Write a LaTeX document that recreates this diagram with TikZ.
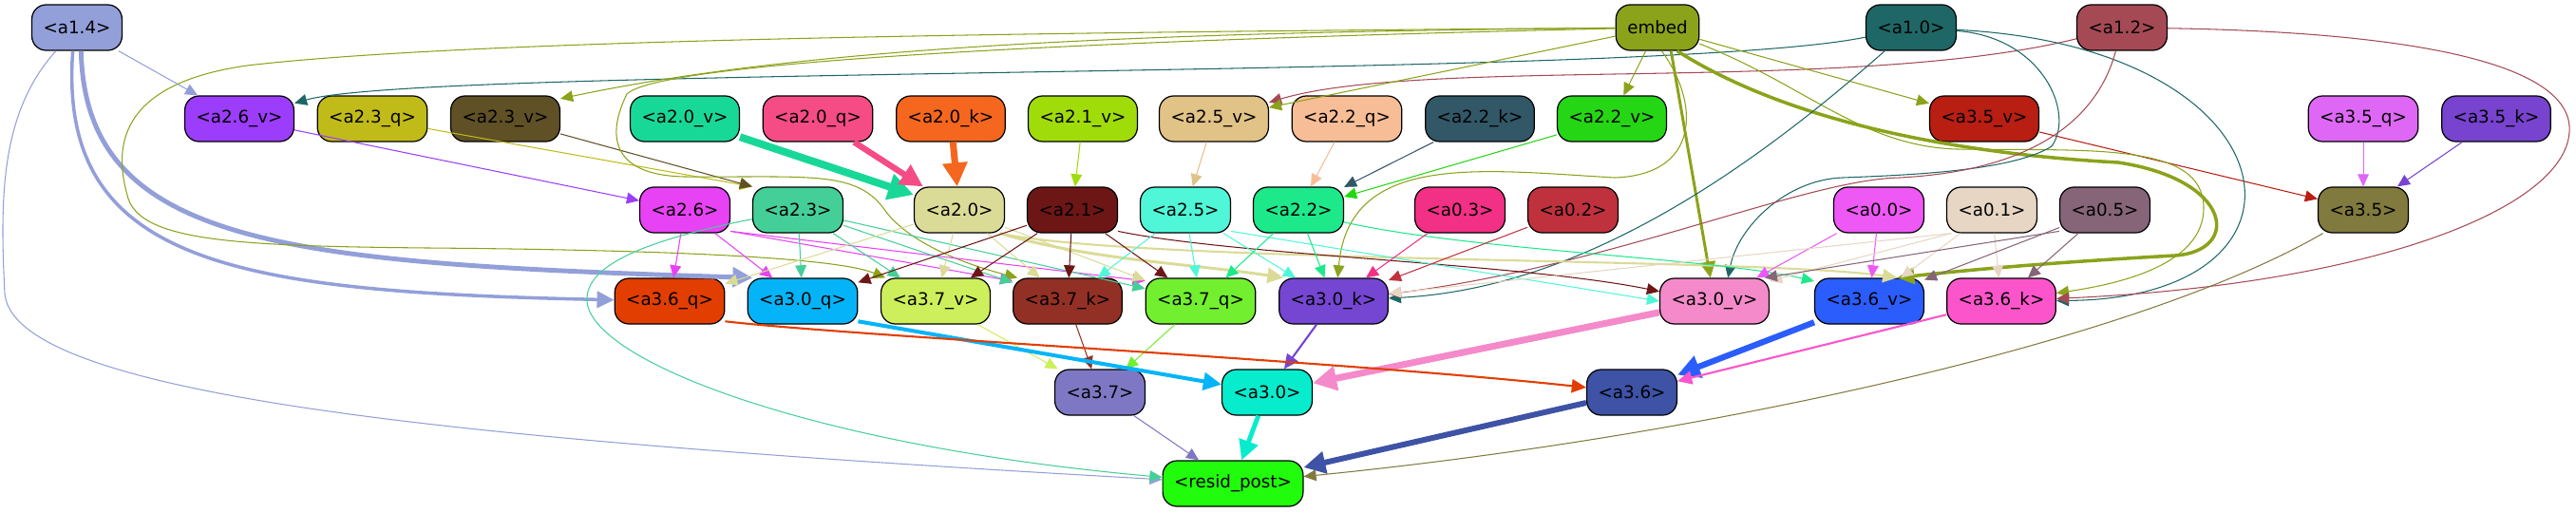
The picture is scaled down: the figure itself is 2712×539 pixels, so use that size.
\documentclass[tikz,border=0pt]{standalone}
\usepackage{fontspec}
\setmainfont{DejaVu Sans}
\usetikzlibrary{arrows.meta}

\definecolor{c14}{HTML}{939FD9}
\definecolor{cemb}{HTML}{8AA31A}
\definecolor{c10}{HTML}{1E6766}
\definecolor{c12}{HTML}{A54A55}
\definecolor{c26v}{HTML}{9B3DFA}
\definecolor{c23q}{HTML}{C0BB18}
\definecolor{c23v}{HTML}{5F5026}
\definecolor{c20v}{HTML}{18D898}
\definecolor{c20q}{HTML}{F54C85}
\definecolor{c20k}{HTML}{F5661E}
\definecolor{c21v}{HTML}{A0DC0A}
\definecolor{c25v}{HTML}{E1C287}
\definecolor{c22q}{HTML}{F7BD96}
\definecolor{c22k}{HTML}{325767}
\definecolor{c22v}{HTML}{25D614}
\definecolor{c35v}{HTML}{B81E12}
\definecolor{c35q}{HTML}{DE68F5}
\definecolor{c35k}{HTML}{7743CF}
\definecolor{c26}{HTML}{E842F5}
\definecolor{c23}{HTML}{45CF98}
\definecolor{c20}{HTML}{DBDB98}
\definecolor{c21}{HTML}{6D1616}
\definecolor{c25}{HTML}{4FF7D8}
\definecolor{c22}{HTML}{1DE98B}
\definecolor{c03}{HTML}{F23085}
\definecolor{c02}{HTML}{C0313E}
\definecolor{c00}{HTML}{EE58F5}
\definecolor{c01}{HTML}{E6D6C3}
\definecolor{c05}{HTML}{866579}
\definecolor{c35}{HTML}{817A3E}
\definecolor{c36q}{HTML}{E23E02}
\definecolor{c30q}{HTML}{05B4F8}
\definecolor{c37v}{HTML}{CDEF5B}
\definecolor{c37k}{HTML}{933025}
\definecolor{c37q}{HTML}{72EF2F}
\definecolor{c30k}{HTML}{7446D2}
\definecolor{c30v}{HTML}{F48ACA}
\definecolor{c36v}{HTML}{2B5DFC}
\definecolor{c36k}{HTML}{FC55CB}
\definecolor{c37}{HTML}{7E78C4}
\definecolor{c30}{HTML}{07ECCD}
\definecolor{c36}{HTML}{3E52A6}
\definecolor{cres}{HTML}{21FC0C}

\tikzset{
  box/.style={draw=black, line width=0.7pt, rounded corners=0.3cm,
    minimum height=0.96cm, inner xsep=0.24cm, inner ysep=0pt, text=black,
    font=\fontsize{10.4pt}{12pt}\selectfont},
  conn/.style={->, line width=0.6pt},
}

\begin{document}
\begin{tikzpicture}[x=0.02cm, y=0.02cm, >={Triangle[length=0.22cm 2, width=0.19cm 2.2]}]
          \useasboundingbox (0,0) rectangle (2712,539);

          % Sources
          \node[box, fill=c14] (a14) at (81,510) {<a1.4>};
          \node[box, fill=cemb] (emb) at (1745,510) {embed};
          \node[box, fill=c10] (a10) at (2012,510) {<a1.0>};
          \node[box, fill=c12] (a12) at (2234,510) {<a1.2>};

          % Inputs of the layer 2 heads
          \node[box, fill=c26v] (a26v) at (252,414) {<a2.6\_v>};
          \node[box, fill=c23q] (a23q) at (392,414) {<a2.3\_q>};
          \node[box, fill=c23v] (a23v) at (532,414) {<a2.3\_v>};
          \node[box, fill=c20v] (a20v) at (721,414) {<a2.0\_v>};
          \node[box, fill=c20q] (a20q) at (861,414) {<a2.0\_q>};
          \node[box, fill=c20k] (a20k) at (1001,414) {<a2.0\_k>};
          \node[box, fill=c21v] (a21v) at (1140,414) {<a2.1\_v>};
          \node[box, fill=c25v] (a25v) at (1278,414) {<a2.5\_v>};
          \node[box, fill=c22q] (a22q) at (1418,414) {<a2.2\_q>};
          \node[box, fill=c22k] (a22k) at (1558,414) {<a2.2\_k>};
          \node[box, fill=c22v] (a22v) at (1697,414) {<a2.2\_v>};
          \node[box, fill=c35v] (a35v) at (2089,414) {<a3.5\_v>};
          \node[box, fill=c35q] (a35q) at (2488,414) {<a3.5\_q>};
          \node[box, fill=c35k] (a35k) at (2628,414) {<a3.5\_k>};

          % Heads
          \node[box, fill=c26] (a26) at (721,318) {<a2.6>};
          \node[box, fill=c23] (a23) at (840,318) {<a2.3>};
          \node[box, fill=c20] (a20) at (1010,318) {<a2.0>};
          \node[box, fill=c21] (a21) at (1129,318) {<a2.1>};
          \node[box, fill=c25] (a25) at (1248,318) {<a2.5>};
          \node[box, fill=c22] (a22) at (1367,318) {<a2.2>};
          \node[box, fill=c03] (a03) at (1537,318) {<a0.3>};
          \node[box, fill=c02] (a02) at (1656,318) {<a0.2>};
          \node[box, fill=c00] (a00) at (1978,318) {<a0.0>};
          \node[box, fill=c01] (a01) at (2097,318) {<a0.1>};
          \node[box, fill=c05] (a05) at (2216,318) {<a0.5>};
          \node[box, fill=c35] (a35) at (2488,318) {<a3.5>};

          % Inputs of the layer 3 heads
          \node[box, fill=c36q] (a36q) at (705,222) {<a3.6\_q>};
          \node[box, fill=c30q] (a30q) at (845,222) {<a3.0\_q>};
          \node[box, fill=c37v] (a37v) at (985,222) {<a3.7\_v>};
          \node[box, fill=c37k] (a37k) at (1124,222) {<a3.7\_k>};
          \node[box, fill=c37q] (a37q) at (1264,222) {<a3.7\_q>};
          \node[box, fill=c30k] (a30k) at (1404,222) {<a3.0\_k>};
          \node[box, fill=c30v] (a30v) at (1805,222) {<a3.0\_v>};
          \node[box, fill=c36v] (a36v) at (1968,222) {<a3.6\_v>};
          \node[box, fill=c36k] (a36k) at (2107,222) {<a3.6\_k>};

          % Layer 3 heads and output
          \node[box, fill=c37] (a37) at (1158,126) {<a3.7>};
          \node[box, fill=c30] (a30) at (1334,126) {<a3.0>};
          \node[box, fill=c36] (a36) at (1718,126) {<a3.6>};
          \node[box, fill=cres] (resid) at (1298,30) {<resid\_post>};

          % Sources into the layer 2 inputs
          \draw[conn, c14] (a14) -- (a26v);
          \draw[conn, c10] (a10) .. controls (1750,455) and (450,470) .. (a26v);
          \draw[conn, c12] (a12) .. controls (1950,440) and (1500,480) .. (a25v);
          \draw[conn, cemb] (emb) .. controls (1200,505) and (850,490) .. (a23v.20);
          \draw[conn, cemb] (emb) -- (a25v);
          \draw[conn, cemb] (emb) -- (a22v);
          \draw[conn, cemb] (emb) -- (a35v);

          % Inputs into the heads
          \draw[conn, c26v] (a26v) -- (a26);
          \draw[conn, c23q] (a23q) -- (a23.north west);
          \draw[conn, c23v] (a23v) -- (a23.north west);
          \draw[conn, c20v, line width=4.5pt] (a20v) -- (a20);
          \draw[conn, c20q, line width=3.6pt] (a20q) -- (a20);
          \draw[conn, c20k, line width=4pt] (a20k) -- (a20);
          \draw[conn, c21v] (a21v) -- (a21);
          \draw[conn, c25v] (a25v) -- (a25);
          \draw[conn, c22q] (a22q) -- (a22);
          \draw[conn, c22k] (a22k) -- (a22);
          \draw[conn, c22v] (a22v) -- (a22);
          \draw[conn, c35v] (a35v) -- (a35);
          \draw[conn, c35q] (a35q) -- (a35);
          \draw[conn, c35k] (a35k) -- (a35);

          % a1.4 into layer 3 and the output
          \draw[conn, c14, line width=2pt] (a14.-100) .. controls (60,260) and (250,232) .. (a36q);
          \draw[conn, c14, line width=2.8pt] (a14.-80) .. controls (90,280) and (300,262) .. (a30q.155);
          \draw[conn, c14] (a14) .. controls (0,420) and (0,330) .. (5,230) .. controls (15,120) and (500,75) .. (resid);

          % embed into layer 3
          \draw[conn, cemb] (emb) .. controls (1100,505) and (500,498) .. (260,470) .. controls (120,450) and (120,380) .. (135,330)
            .. controls (150,285) and (250,280) .. (450,278) .. controls (700,276) and (880,268) .. (a37v.155);
          \draw[conn, cemb] (emb) .. controls (1300,500) and (700,480) .. (660,440) .. controls (640,400) and (640,355) .. (720,353)
            .. controls (850,352) and (900,360) .. (930,320) .. controls (950,290) and (1000,265) .. (a37k.155);
          \draw[conn, cemb] (emb.-80) .. controls (1790,430) and (1790,355) .. (1700,352) .. controls (1560,360) and (1420,380) .. (a30k.80);
          \draw[conn, cemb, line width=1.7pt] (emb.-60) -- (a30v);
          \draw[conn, cemb, line width=2pt] (emb.-50) .. controls (1900,400) and (2100,375) .. (2230,368)
            .. controls (2350,350) and (2360,275) .. (2290,270) .. controls (2200,265) and (2100,258) .. (a36v.40);
          \draw[conn, cemb] (emb) .. controls (1900,450) and (1960,385) .. (2060,382) .. controls (2200,380) and (2320,390) .. (2320,320)
            .. controls (2320,260) and (2230,240) .. (a36k);

          % a1.0 and a1.2 into layer 3
          \draw[conn, c10] (a10) .. controls (1820,340) and (1650,235) .. (a30k);
          \draw[conn, c10] (a10) .. controls (2150,500) and (2185,420) .. (2160,385) .. controls (2120,360) and (2020,355) .. (1940,352)
            .. controls (1880,350) and (1830,300) .. (a30v.60);
          \draw[conn, c10] (a10) .. controls (2420,490) and (2460,225) .. (a36k);
          \draw[conn, c12] (a12) .. controls (2210,420) and (2150,360) .. (2000,352) .. controls (1900,350) and (1700,260) .. (a30k);
          \draw[conn, c12] (a12) .. controls (2550,505) and (2710,470) .. (2705,400) .. controls (2700,320) and (2500,240) .. (a36k);

          % Layer 2 heads into layer 3
          \draw[conn, c26] (a26) -- (a36q);
          \draw[conn, c26] (a26) -- (a30q);
          \draw[conn, c26] (a26.-25) -- (a37k.160);
          \draw[conn, c26] (a26.-25) -- (a37q.160);
          \draw[conn, c23] (a23) -- (a30q);
          \draw[conn, c23] (a23) -- (a37v);
          \draw[conn, c23] (a23) -- (a37k);
          \draw[conn, c23] (a23) -- (a37q);
          \draw[conn, c23] (a23) .. controls (700,290) and (615,265) .. (618,222) .. controls (622,160) and (850,70) .. (resid);
          \draw[conn, c20] (a20) -- (a36q);
          \draw[conn, c20] (a20) -- (a37v);
          \draw[conn, c20] (a20) -- (a37k);
          \draw[conn, c20] (a20) -- (a37q);
          \draw[conn, c20, line width=1.7pt] (a20.-30) .. controls (1150,265) and (1250,262) .. (a30k.155);
          \draw[conn, c20, line width=1.2pt] (a20.-30) .. controls (1200,262) and (1850,268) .. (a36v.40);
          \draw[conn, c21] (a21) -- (a30q);
          \draw[conn, c21] (a21) -- (a37v);
          \draw[conn, c21] (a21) -- (a37k);
          \draw[conn, c21] (a21) -- (a37q);
          \draw[conn, c21] (a21.-25) .. controls (1300,270) and (1600,262) .. (a30v.170);
          \draw[conn, c25] (a25) -- (a37k);
          \draw[conn, c25] (a25) -- (a37q);
          \draw[conn, c25] (a25) -- (a30k);
          \draw[conn, c25] (a25.-25) -- (a30v.west);
          \draw[conn, c22] (a22) -- (a37q);
          \draw[conn, c22] (a22) -- (a30k);
          \draw[conn, c22] (a22.-15) .. controls (1550,275) and (1800,268) .. (a36v.160);

          % Layer 0 heads into layer 3
          \draw[conn, c03] (a03) -- (a30k);
          \draw[conn, c02] (a02) -- (a30k);
          \draw[conn, c00] (a00) -- (a30v);
          \draw[conn, c00] (a00) -- (a36v);
          \draw[conn, c01] (a01.210) -- (a30k.8);
          \draw[conn, c01] (a01.210) -- (a30v.20);
          \draw[conn, c01] (a01) -- (a36v);
          \draw[conn, c01] (a01) -- (a36k);
          \draw[conn, c05] (a05.205) -- (a30v.25);
          \draw[conn, c05] (a05) -- (a36v);
          \draw[conn, c05] (a05) -- (a36k);

          % Layer 3 inputs into the heads
          \draw[conn, c37v] (a37v) -- (a37);
          \draw[conn, c37k] (a37k) -- (a37);
          \draw[conn, c37q] (a37q) -- (a37);
          \draw[conn, c30q, line width=2.3pt] (a30q.-20) -- (a30);
          \draw[conn, c30k, line width=1.2pt] (a30k) -- (a30);
          \draw[conn, c30v, line width=4pt] (a30v) -- (a30);
          \draw[conn, c36q, line width=1.2pt] (a36q.-20) .. controls (900,185) and (1400,160) .. (a36);
          \draw[conn, c36v, line width=3.6pt] (a36v) -- (a36);
          \draw[conn, c36k, line width=1.2pt] (a36k) -- (a36);

          % Into the output
          \draw[conn, c37] (a37) -- (resid);
          \draw[conn, c30, line width=2.8pt] (a30) -- (resid);
          \draw[conn, c36, line width=3.4pt] (a36) -- (resid);
          \draw[conn, c35] (a35) .. controls (2250,180) and (1800,80) .. (resid);

        \end{tikzpicture}
\end{document}
